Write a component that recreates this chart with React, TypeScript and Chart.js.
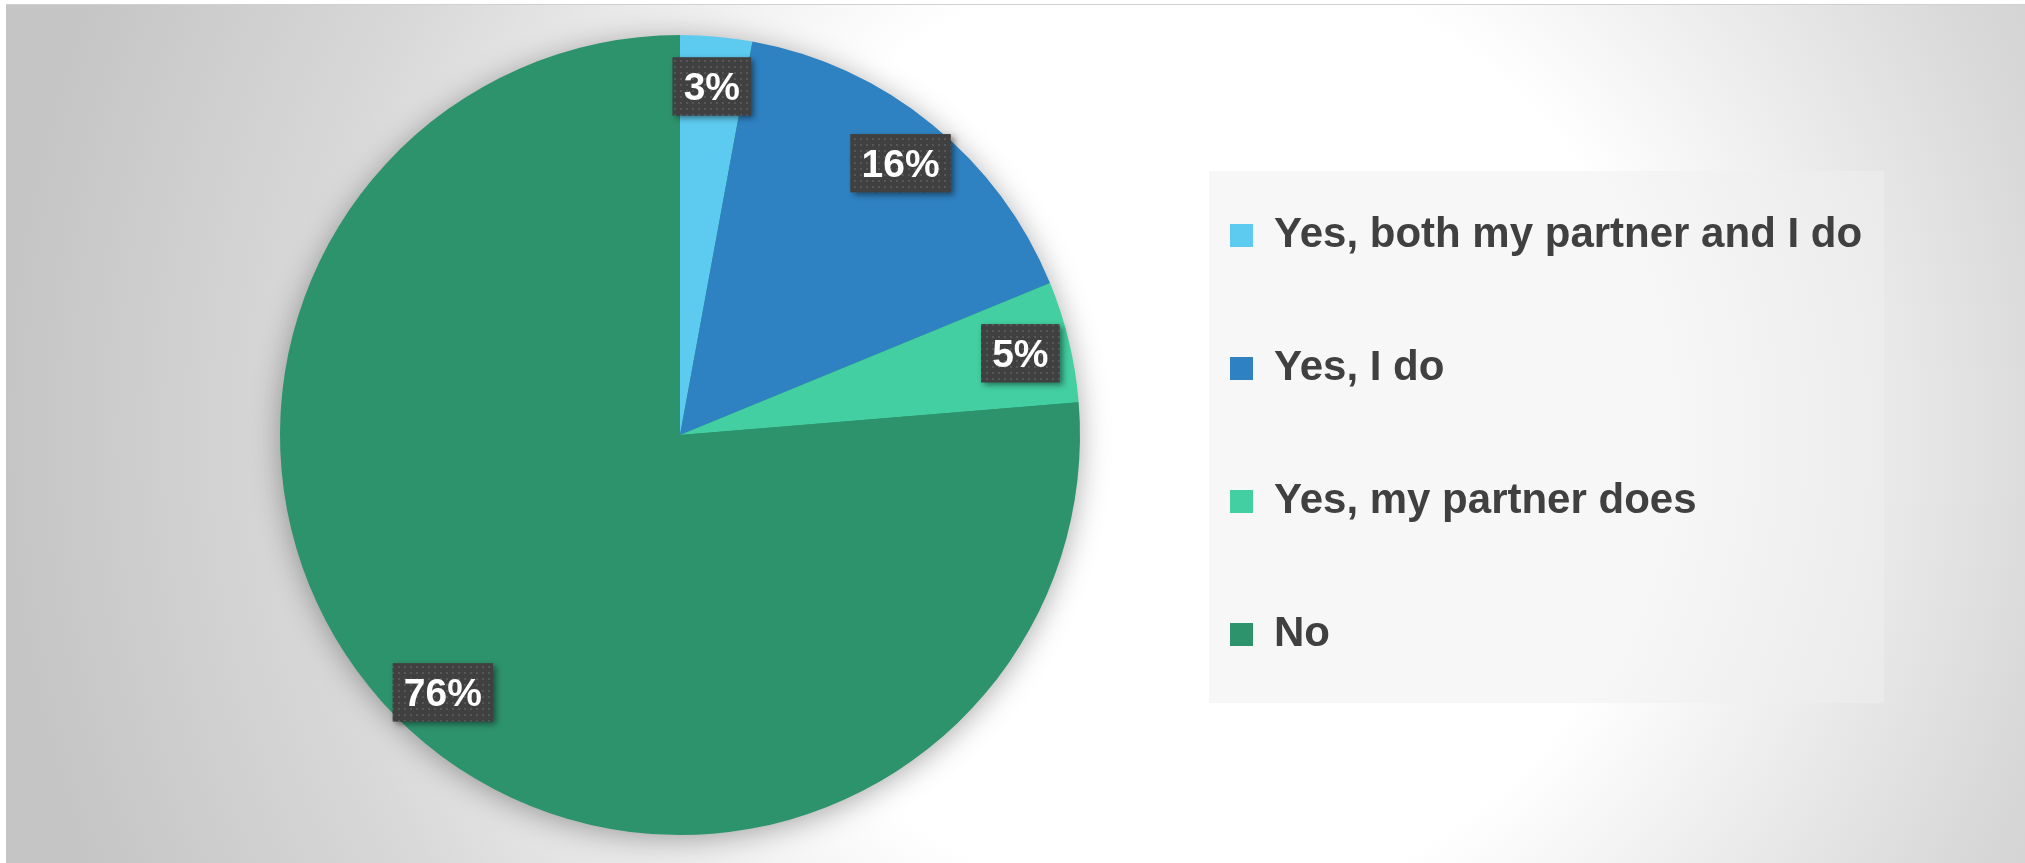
import React, { useEffect, useRef } from "react";
import { Chart, registerables } from "chart.js";

Chart.register(...registerables);

// ---- data ----
const categories = [
  "Yes, both my partner and I do",
  "Yes, I do",
  "Yes, my partner does",
  "No",
];
const shares = [2.9, 15.9, 4.9, 76.3];
const sliceColors = ["#5DCAF0", "#2F82C2", "#43CFA1", "#2D936D"];

// ---- styling ----
const W = 2019;
const H = 859;
const FONT = "'Liberation Sans', Arial, sans-serif";
const LEGEND_FONT_SIZE = 42;
const LEGEND_PAD = 91;
const LEGEND_BOX = 23;
const LEGEND_LEFT = 1133; // target left edge of legend block

function makeDotPattern(ctx: CanvasRenderingContext2D) {
  const c = document.createElement("canvas");
  c.width = 6;
  c.height = 6;
  const p = c.getContext("2d")!;
  p.fillStyle = "#404040";
  p.fillRect(0, 0, 6, 6);
  p.fillStyle = "#575757";
  p.fillRect(2, 2, 2, 2);
  return ctx.createPattern(c, "repeat");
}

const backgroundPlugin = {
  id: "bgPanel",
  beforeDraw(chart: any) {
    const { ctx, width, height } = chart;
    ctx.save();
    const g = ctx.createRadialGradient(1180, 430, 0, 1180, 430, 1180);
    g.addColorStop(0, "#ffffff");
    g.addColorStop(0.4, "#ffffff");
    g.addColorStop(0.75, "#d8d8d8");
    g.addColorStop(1, "#c5c5c5");
    ctx.fillStyle = g;
    ctx.fillRect(0, 0, width, height);
    ctx.fillStyle = "#d0d0d0";
    ctx.fillRect(0, 0, width, 1);
    // legend panel
    ctx.fillStyle = "rgba(240,240,240,0.5)";
    ctx.fillRect(1203, 167, 675, 532);
    ctx.restore();
  },
  beforeDatasetsDraw(chart: any) {
    const meta = chart.getDatasetMeta(0);
    const arc = meta.data[0];
    if (!arc) return;
    const { x, y, outerRadius } = arc.getProps(["x", "y", "outerRadius"], true);
    const ctx = chart.ctx;
    ctx.save();
    ctx.shadowColor = "rgba(0,0,0,0.35)";
    ctx.shadowBlur = 30;
    ctx.shadowOffsetX = 0;
    ctx.shadowOffsetY = 4;
    ctx.fillStyle = "#2D936D";
    ctx.beginPath();
    ctx.arc(x, y, outerRadius - 1, 0, Math.PI * 2);
    ctx.fill();
    ctx.restore();
  },
  afterDatasetsDraw(chart: any) {
    const ctx = chart.ctx;
    const meta = chart.getDatasetMeta(0);
    const values: number[] = chart.data.datasets[0].data;
    const total = values.reduce((a, b) => a + b, 0);
    const pattern = makeDotPattern(ctx);
    ctx.save();
    ctx.font = `bold 39px ${FONT}`;
    meta.data.forEach((el: any, i: number) => {
      const { x, y, startAngle, endAngle, outerRadius } = el.getProps(
        ["x", "y", "startAngle", "endAngle", "outerRadius"],
        true
      );
      const mid = (startAngle + endAngle) / 2;
      const r = outerRadius * 0.875;
      const cx = x + Math.cos(mid) * r;
      const cy = y + Math.sin(mid) * r;
      const text = Math.round((values[i] / total) * 100) + "%";
      const tw = ctx.measureText(text).width;
      const bw = tw + 22;
      const bh = 58;
      const bx = cx - bw / 2;
      const by = cy - bh / 2;
      ctx.save();
      ctx.shadowColor = "rgba(0,0,0,0.45)";
      ctx.shadowBlur = 6;
      ctx.shadowOffsetX = 3;
      ctx.shadowOffsetY = 3;
      ctx.fillStyle = "#404040";
      ctx.fillRect(bx, by, bw, bh);
      ctx.restore();
      if (pattern) {
        ctx.fillStyle = pattern;
        ctx.fillRect(bx, by, bw, bh);
      }
      ctx.fillStyle = "#ffffff";
      ctx.textAlign = "center";
      ctx.textBaseline = "alphabetic";
      ctx.fillText(text, cx, cy + 14);
    });
    ctx.restore();
  },
};

export default function App() {
  const ref = useRef<HTMLCanvasElement | null>(null);
  useEffect(() => {
    if (!ref.current) return;
    // measure the longest legend label to place the legend block
    const mctx = document.createElement("canvas").getContext("2d")!;
    mctx.font = `bold ${LEGEND_FONT_SIZE}px ${FONT}`;
    const maxText = Math.max(...categories.map((c) => mctx.measureText(c).width));
    const legendWidth = LEGEND_PAD + 10 + LEGEND_BOX + LEGEND_FONT_SIZE / 2 + maxText;
    const padRight = Math.max(0, W - LEGEND_LEFT - legendWidth);
    const chartCenter = 674;
    const padLeft = 2 * chartCenter - LEGEND_LEFT;

    const chart = new Chart(ref.current, {
      type: "pie",
      data: {
        labels: categories,
        datasets: [
          {
            data: shares,
            backgroundColor: sliceColors,
            borderWidth: 0,
          },
        ],
      },
      options: {
        responsive: false,
        animation: false,
        devicePixelRatio: 1,
        layout: { padding: { left: padLeft, right: padRight, top: 31, bottom: 28 } },
        plugins: {
          tooltip: { enabled: false },
          legend: {
            position: "right",
            align: "center",
            labels: {
              boxWidth: LEGEND_BOX,
              boxHeight: LEGEND_BOX,
              padding: LEGEND_PAD,
              color: "#404040",
              font: { family: FONT, size: LEGEND_FONT_SIZE, weight: "bold" },
            },
          },
        },
      },
      plugins: [backgroundPlugin],
    } as any);
    return () => chart.destroy();
  }, []);
  return (
    <canvas
      ref={ref}
      width={W}
      height={H}
      style={{ position: "absolute", left: 6, top: 4, width: W, height: H, display: "block" }}
    />
  );
}
